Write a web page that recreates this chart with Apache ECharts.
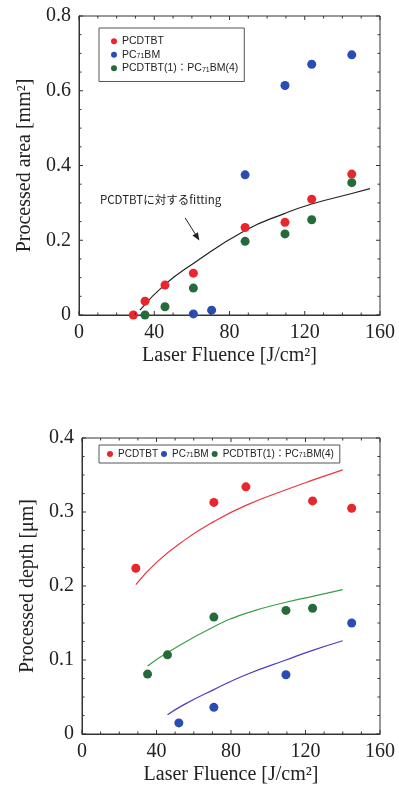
<!DOCTYPE html>
<html>
<head>
<meta charset="utf-8">
<script src="https://cdn.jsdelivr.net/npm/echarts@6/dist/echarts.min.js"></script>
<style>
html, body { margin: 0; padding: 0; background: #fff; }
#chart { width: 399px; height: 790px; }
</style>
</head>
<body>
<div id="chart"></div>
<script>
// upper panel: processed area [mm2]
const areaRedX = [28.9, 35.1, 45.7, 60.8, 88.3, 109.5, 123.7, 145];
const areaRedY = [0.0, 0.037, 0.080, 0.112, 0.234, 0.248, 0.310, 0.377];
const areaBlueX = [60.8, 70.5, 88.3, 109.5, 123.7, 145];
const areaBlueY = [0.003, 0.013, 0.375, 0.614, 0.671, 0.696];
const areaGreenX = [35.1, 45.7, 60.8, 88.3, 109.5, 123.7, 145];
const areaGreenY = [0.0, 0.022, 0.072, 0.197, 0.217, 0.255, 0.354];
const areaFitX = [32.4, 45.7, 60.8, 88.3, 109.5, 123.7, 145, 154.7];
const areaFitY = [0.013, 0.082, 0.138, 0.226, 0.272, 0.297, 0.325, 0.338];
// arrow pointing at the fitted curve (data coords)
const arrowFrom = [56.4, 0.26];
const arrowTo = [64, 0.199];

// lower panel: processed depth [um]
const depthRedX = [28.9, 70.8, 88.0, 123.8, 144.8];
const depthRedY = [0.224, 0.313, 0.334, 0.315, 0.305];
const depthBlueX = [52.0, 70.8, 109.5, 144.8];
const depthBlueY = [0.015, 0.036, 0.080, 0.150];
const depthGreenX = [35.2, 45.9, 70.8, 109.5, 123.8];
const depthGreenY = [0.081, 0.107, 0.158, 0.167, 0.170];
const depthRedFitX = [28.9, 40, 55, 70.8, 88, 109.5, 123.8, 140];
const depthRedFitY = [0.202, 0.232, 0.262, 0.287, 0.309, 0.330, 0.343, 0.357];
const depthGreenFitX = [35.2, 45.9, 70.8, 88, 109.5, 123.8, 140];
const depthGreenFitY = [0.092, 0.110, 0.145, 0.163, 0.178, 0.186, 0.195];
const depthBlueFitX = [45.9, 55, 70.8, 88, 109.5, 123.8, 140];
const depthBlueFitY = [0.026, 0.040, 0.060, 0.080, 0.100, 0.113, 0.126];

// tick marks (major + minor), drawn on all four sides
const xTickValues = [0, 10, 20, 30, 40, 50, 60, 70, 80, 90, 100, 110, 120, 130, 140, 150, 160];
const areaTickValues = [0, 0.05, 0.1, 0.15, 0.2, 0.25, 0.3, 0.35, 0.4, 0.45, 0.5, 0.55, 0.6, 0.65, 0.7, 0.75, 0.8];
const depthTickValues = [0, 0.025, 0.05, 0.075, 0.1, 0.125, 0.15, 0.175, 0.2, 0.225, 0.25, 0.275, 0.3, 0.325, 0.35, 0.375, 0.4];

const seriesNames = ['PCDTBT', 'PC71BM', 'PCDTBT(1)：PC71BM(4)'];
const xTicks = { min: 0, max: 160, interval: 40 };
const areaTicks = { min: 0, max: 0.8, interval: 0.2 };
const depthTicks = { min: 0, max: 0.4, interval: 0.1 };

const RED = '#e8262e', BLUE = '#2a4cb3', GREEN = '#256b3a';
const SERIF = '"Liberation Serif", "DejaVu Serif", serif';
const SANS = '"Liberation Sans", "Noto Sans CJK JP", sans-serif';

function pairs(xs, ys) {
    return xs.map((x, i) => [x, ys[i]]);
}

function valueAxis(idx, pos, ticks, extra) {
    return Object.assign({
        type: 'value',
        gridIndex: idx,
        position: pos,
        min: ticks.min,
        max: ticks.max,
        interval: ticks.interval,
        axisLine: { show: true, onZero: false, lineStyle: { color: '#333', width: 1 } },
        axisTick: { show: false },
        splitLine: { show: false },
        axisLabel: { show: true, color: '#222', fontFamily: SERIF, fontSize: 20 }
    }, extra || {});
}

const nameStyle = { fontFamily: SERIF, fontSize: 20, color: '#222' };

function scatter(name, x, y, color, ai) {
    return {
        name: name,
        type: 'scatter',
        xAxisIndex: ai,
        yAxisIndex: ai,
        data: pairs(x, y),
        symbol: 'circle',
        symbolSize: 9,
        itemStyle: { color: color, opacity: 1 },
        z: 3
    };
}

function fitLine(name, x, y, color, ai) {
    return {
        name: name,
        type: 'line',
        xAxisIndex: ai,
        yAxisIndex: ai,
        data: pairs(x, y),
        smooth: true,
        showSymbol: false,
        symbol: 'none',
        lineStyle: { color: color, width: 1.2 },
        z: 2,
        silent: true
    };
}

// inward tick marks via the grid's own scale
function tickSeries(name, ai, values, dir, xr, yr, major) {
    return {
        name: name,
        type: 'custom',
        xAxisIndex: ai,
        yAxisIndex: ai,
        silent: true,
        z: 4,
        data: values.map(v => [v]),
        renderItem: function (params, api) {
            const v = api.value(0);
            const r = v / major;
            const len = Math.abs(r - Math.round(r)) < 1e-6 ? 4 : 2.5;
            const st = { stroke: '#333', lineWidth: 1 };
            if (dir === 'x') {
                const a = api.coord([v, yr.min]);
                const b = api.coord([v, yr.max]);
                return { type: 'group', children: [
                    { type: 'line', shape: { x1: a[0], y1: a[1], x2: a[0], y2: a[1] - len }, style: st },
                    { type: 'line', shape: { x1: b[0], y1: b[1], x2: b[0], y2: b[1] + len }, style: st }
                ] };
            }
            const a = api.coord([xr.min, v]);
            const b = api.coord([xr.max, v]);
            return { type: 'group', children: [
                { type: 'line', shape: { x1: a[0], y1: a[1], x2: a[0] + len, y2: a[1] }, style: st },
                { type: 'line', shape: { x1: b[0], y1: b[1], x2: b[0] - len, y2: b[1] }, style: st }
            ] };
        }
    };
}

function legendText(size) {
    return {
        fontFamily: SANS,
        fontSize: size,
        color: '#222',
        rich: { s: { fontFamily: SANS, fontSize: 7, verticalAlign: 'bottom', color: '#222', padding: [3, 0, 0, 0] } }
    };
}
const legendFmt = function (name) {
    return name.replace(/71/g, '{s|71}');
};

const chart = echarts.init(document.getElementById('chart'));

const annotation = {
    type: 'text',
    left: 100,
    top: 194,
    style: { text: 'PCDTBTに対するfitting', font: '11.5px "Noto Sans CJK JP", sans-serif', fill: '#222' }
};

const option = {
    backgroundColor: '#fff',
    animation: false,
    grid: [
        { show: true, borderColor: '#333', borderWidth: 1, left: 79, right: 19, top: 16, bottom: 475 },
        { show: true, borderColor: '#333', borderWidth: 1, left: 82, right: 19, top: 438, bottom: 56 }
    ],
    xAxis: [
        valueAxis(0, 'bottom', xTicks, { name: 'Laser Fluence [J/cm²]', nameLocation: 'middle', nameGap: 31, nameTextStyle: nameStyle }),
        valueAxis(1, 'bottom', xTicks, { name: 'Laser Fluence [J/cm²]', nameLocation: 'middle', nameGap: 31, nameTextStyle: nameStyle })
    ],
    yAxis: [
        valueAxis(0, 'left', areaTicks, { name: 'Processed area [mm²]', nameLocation: 'middle', nameRotate: 90, nameGap: 40, nameTextStyle: nameStyle }),
        valueAxis(1, 'left', depthTicks, { name: 'Processed depth [μm]', nameLocation: 'middle', nameRotate: 90, nameGap: 40, nameTextStyle: nameStyle })
    ],
    legend: [
        {
            data: seriesNames,
            orient: 'vertical',
            left: 99,
            top: 28,
            itemGap: 3,
            itemWidth: 6,
            itemHeight: 6,
            icon: 'circle',
            padding: [8, 6, 8, 12],
            borderColor: '#555',
            borderWidth: 1,
            borderRadius: 0,
            selectedMode: false,
            textStyle: legendText(10.5),
            formatter: legendFmt
        },
        {
            data: seriesNames,
            orient: 'horizontal',
            left: 99,
            top: 445,
            itemGap: 3,
            itemWidth: 6,
            itemHeight: 6,
            icon: 'circle',
            padding: [4, 6, 4, 8],
            borderColor: '#555',
            borderWidth: 1,
            borderRadius: 0,
            selectedMode: false,
            textStyle: legendText(10),
            formatter: legendFmt
        }
    ],
    graphic: [annotation],
    series: [
        scatter(seriesNames[0], areaRedX, areaRedY, RED, 0),
        scatter(seriesNames[1], areaBlueX, areaBlueY, BLUE, 0),
        scatter(seriesNames[2], areaGreenX, areaGreenY, GREEN, 0),
        fitLine('fit area', areaFitX, areaFitY, '#222', 0),
        scatter(seriesNames[0], depthRedX, depthRedY, RED, 1),
        scatter(seriesNames[1], depthBlueX, depthBlueY, BLUE, 1),
        scatter(seriesNames[2], depthGreenX, depthGreenY, GREEN, 1),
        fitLine('fit red', depthRedFitX, depthRedFitY, '#ee3340', 1),
        fitLine('fit green', depthGreenFitX, depthGreenFitY, '#3a9e48', 1),
        fitLine('fit blue', depthBlueFitX, depthBlueFitY, '#4b3cc4', 1),
        tickSeries('ticks x top', 0, xTickValues, 'x', xTicks, areaTicks, 40),
        tickSeries('ticks y top', 0, areaTickValues, 'y', xTicks, areaTicks, 0.2),
        tickSeries('ticks x bottom', 1, xTickValues, 'x', xTicks, depthTicks, 40),
        tickSeries('ticks y bottom', 1, depthTickValues, 'y', xTicks, depthTicks, 0.1)
    ]
};

chart.setOption(option);

// arrow: place it through the grid's own scale
const p0 = chart.convertToPixel({ gridIndex: 0 }, arrowFrom);
const p1 = chart.convertToPixel({ gridIndex: 0 }, arrowTo);
const dx = p1[0] - p0[0], dy = p1[1] - p0[1];
const len = Math.sqrt(dx * dx + dy * dy);
const ux = dx / len, uy = dy / len;
const bx = p1[0] - ux * 8, by = p1[1] - uy * 8;
chart.setOption({
    graphic: [
        annotation,
        { type: 'line', shape: { x1: p0[0], y1: p0[1], x2: bx, y2: by }, style: { stroke: '#222', lineWidth: 1 } },
        {
            type: 'polygon',
            shape: { points: [[p1[0], p1[1]], [bx - uy * 3.2, by + ux * 3.2], [bx + uy * 3.2, by - ux * 3.2]] },
            style: { fill: '#222' }
        }
    ]
});
</script>
</body>
</html>
